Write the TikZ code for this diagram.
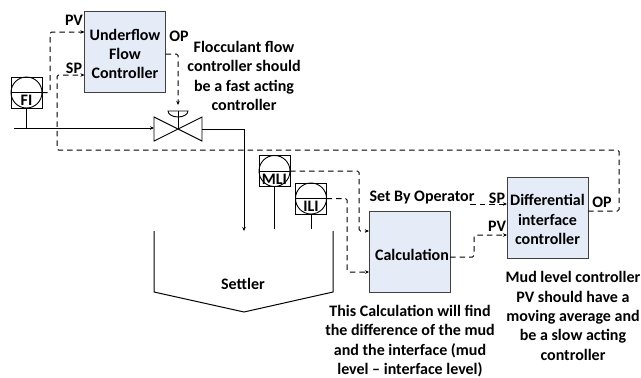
\documentclass[tikz,border=0pt]{standalone}
\usepackage{fontspec}
\setmainfont{Carlito}
\usetikzlibrary{arrows.meta}
\definecolor{ctrlfill}{HTML}{E6ECF7}
\tikzset{
 every node/.style={font=\fontsize{16}{19.3}\selectfont\bfseries,inner sep=0pt,outer sep=0pt},
 ctrl/.style={draw=black!75,fill=ctrlfill,line width=1pt,minimum width=81,minimum height=81},
 lbl/.style={align=center},
 sig/.style={draw=black,line width=1pt,dash pattern=on 5.5pt off 4pt,rounded corners=1.5pt},
 sigarrow/.style={sig,-{Stealth[length=4pt,width=3.5pt]}},
 pipe/.style={draw=black,line width=1pt},
 instbox/.style={draw=black,line width=0.9pt,minimum width=31,minimum height=31},
 instcirc/.style={draw=black,circle,line width=0.9pt,minimum size=31},
}
\begin{document}
\begin{tikzpicture}[x=1pt,y=-1pt]
\useasboundingbox (0,0) rectangle (641,378);
% controllers
\node[ctrl] (uf) at (125,52) {};
\node[lbl] (uft) at (125,54) {Underflow\\Flow\\Controller};
\node[ctrl] (calc) at (409.5,251.5) {};
\node[lbl] (calct) at (412,255) {Calculation};
\node[ctrl] (diff) at (547.5,218) {};
\node[lbl] (difft) at (547.5,219.5) {Differential\\interface\\controller};
% instruments
\node[instbox] (fi) at (26.5,92.5) {};
\node[instcirc] (fic) at (26.5,92.5) {};
\draw[line width=0.9pt] (fic.west) -- (fic.east);
\node (fit) at (26.5,100) {FI};
\node[instbox] (mli) at (274.5,171) {};
\node[instcirc] (mlic) at (274.5,171) {};
\draw[line width=0.9pt] (mlic.west) -- (mlic.east);
\node (mlit) at (274.5,179) {MLI};
\node[instbox] (ili) at (311,198.5) {};
\node[instcirc] (ilic) at (311,198.5) {};
\draw[line width=0.9pt] (ilic.west) -- (ilic.east);
\node (ilit) at (311,206) {ILI};
% valve
\coordinate (vc) at (178,129);
\coordinate (vtop) at (178,111);
\draw[line width=0.9pt] (154,117) -- (202,141) -- (202,117) -- (154,141) -- cycle;
\draw[line width=0.9pt] (vc) -- (vtop);
\draw[line width=0.9pt] (168,111) arc[start angle=180,end angle=0,x radius=10,y radius=6] -- cycle;
% pipes
\coordinate (pstart) at (14,128);
\coordinate (pfi) at (26.5,128);
\coordinate (vr) at (202,129);
\draw[pipe] (fi.south) -- (pfi);
\draw[pipe,-{Stealth[length=4pt,width=3.5pt]}] (pstart) -- (154,128);
\draw[pipe,-{Stealth[length=4pt,width=3.5pt]}] (vr) -- (244,129) -- (244,231);
\coordinate (mlib) at (274.5,229);
\coordinate (ilib) at (311,229);
\draw[pipe] (mli.south) -- (mlib);
\draw[pipe] (ili.south) -- (ilib);
% settler
\draw[line width=1pt] (154,231) -- (154,292) -- (244,312) -- (333,292) -- (333,231);
\node (settler) at (243,284) {Settler};
% signals
\draw[sigarrow] (fi.east) -- (50,92.5) -- (50,32) -- (uf.west |- 0,32);
\draw[sigarrow] (uf.east |- 0,54) -- (178,54) -- (178,105);
\draw[sigarrow] (diff.east |- 0,211) -- (619,211) -- (619,150) -- (57,150) -- (57,75) -- (uf.west |- 0,75);
\draw[sigarrow] (mli.east) -- (359,171) -- (359,231) -- (calc.west |- 0,231);
\draw[sigarrow] (ili.east) -- (347,198.5) -- (347,272) -- (calc.west |- 0,272);
\draw[sigarrow] (calc.east |- 0,257) -- (474,257) -- (474,235) -- (diff.west |- 0,235);
\coordinate (sb) at (470,204);
\draw[sigarrow] (sb) -- (diff.west |- 0,204);
% labels
\node (pvu) at (74,20) {PV};
\node (spu) at (74,68) {SP};
\node (opu) at (179,36) {OP};
\node[lbl] (floc) at (244,76) {Flocculant flow\\controller should\\be a fast acting\\controller};
\node (sbo) at (422,198) {Set By Operator};
\node (spd) at (497,198) {SP};
\node (pvd) at (497,226) {PV};
\node (opd) at (602,202) {OP};
\node[lbl] (mud) at (573,316) {Mud level controller\\PV should have a\\moving average and\\be a slow acting\\controller};
\node[lbl] (calcn) at (410,341) {This Calculation will find\\the difference of the mud\\and the interface (mud\\level -- interface level)};
\end{tikzpicture}
\end{document}
